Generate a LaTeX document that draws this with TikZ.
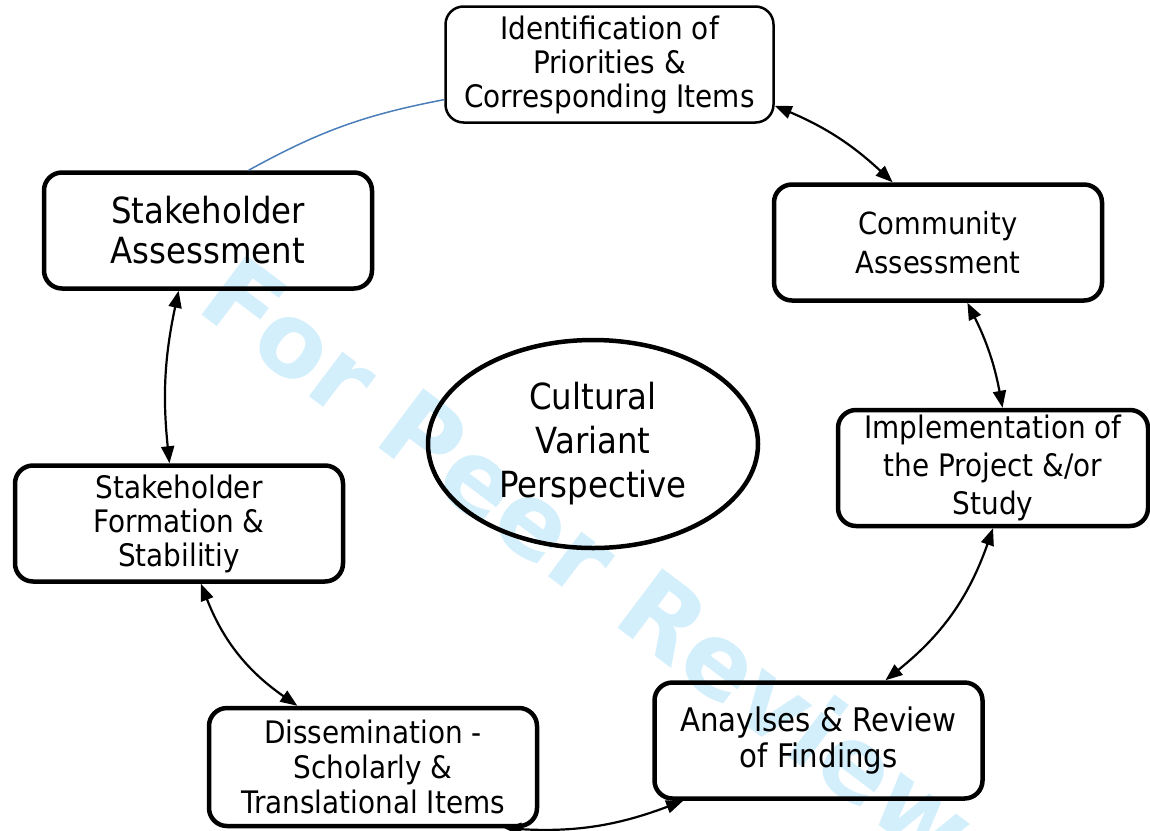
\documentclass[tikz,border=0pt]{standalone}
\usepackage{fontspec}
\setmainfont{DejaVu Sans}[FakeStretch=0.9]
\newfontfamily\markfont{DejaVu Sans}
\usetikzlibrary{arrows.meta,shapes.geometric}
\definecolor{markblue}{RGB}{211,239,252}
\definecolor{linkblue}{RGB}{74,126,187}
\tikzset{
  stage/.style={draw,line width=4.5pt,rounded corners=18pt,minimum width=328pt,minimum height=116pt,
    inner sep=0pt,align=center,font=\fontsize{31}{34}\selectfont},
  link/.style={<->,line width=2.2pt},
}
\begin{document}
\begin{tikzpicture}[x=1pt,y=-1pt,>={Triangle[length=17pt,width=13pt]},line join=round]
	
	\useasboundingbox (0,0) rectangle (1150,830);
	% watermark behind everything
	\node[text=markblue,font=\markfont\bfseries\fontsize{102}{102}\selectfont,rotate=-37] (mark) at (590,560) {For Peer Review};
	
	% the seven stages round the circle
	\node[stage,line width=2.5pt] (ident) at (609.5,64.5) {Identification of\\Priorities \&\\Corresponding Items};
	\node[stage,font=\fontsize{30.5}{39}\selectfont] (commun) at (938,242.5) {Community\\Assessment};
	\node[stage,minimum width=310pt,font=\fontsize{31}{38}\selectfont] (impl) at (993,468) {Implementation of\\the Project \&/or\\Study};
	\node[stage,font=\fontsize{32.5}{36}\selectfont] (review) at (818.5,740.5) {Anaylses \& Review\\of Findings};
	\node[stage,minimum height=118pt,font=\fontsize{31}{35}\selectfont] (dissem) at (373,767) {Dissemination -\\Scholarly \&\\Translational Items};
	\node[stage] (form) at (179,523.5) {Stakeholder\\Formation \&\\Stabilitiy};
	\node[stage,font=\fontsize{36}{40}\selectfont] (assess) at (208,230.5) {Stakeholder\\Assessment};
	
	% centre
	\node[draw,ellipse,line width=4.5pt,minimum width=330pt,minimum height=208pt,inner sep=0pt,
	  align=center,font=\fontsize{36}{44}\selectfont] (core) at (593,444) {Cultural\\Variant\\Perspective};
	
	% two-way links between neighbouring stages
	\draw[link] (ident.-14) to[bend left=10] (commun.127);
	\draw[link] (commun.-64) to[bend left=8] (impl.81);
	\draw[link] (impl.south) to[bend left=16] (review.42);
	\draw[link] (review.204) to[bend left=12] (dissem.-25);
	\draw[link] (dissem.141) to[bend left=17] (form.-70);
	\draw[link] (form.99) to[bend left=9] (assess.-116);
	\draw[linkblue,line width=1.5pt] (assess.56) to[bend left=9] (ident.192); % no arrow here
\end{tikzpicture}
\end{document}
